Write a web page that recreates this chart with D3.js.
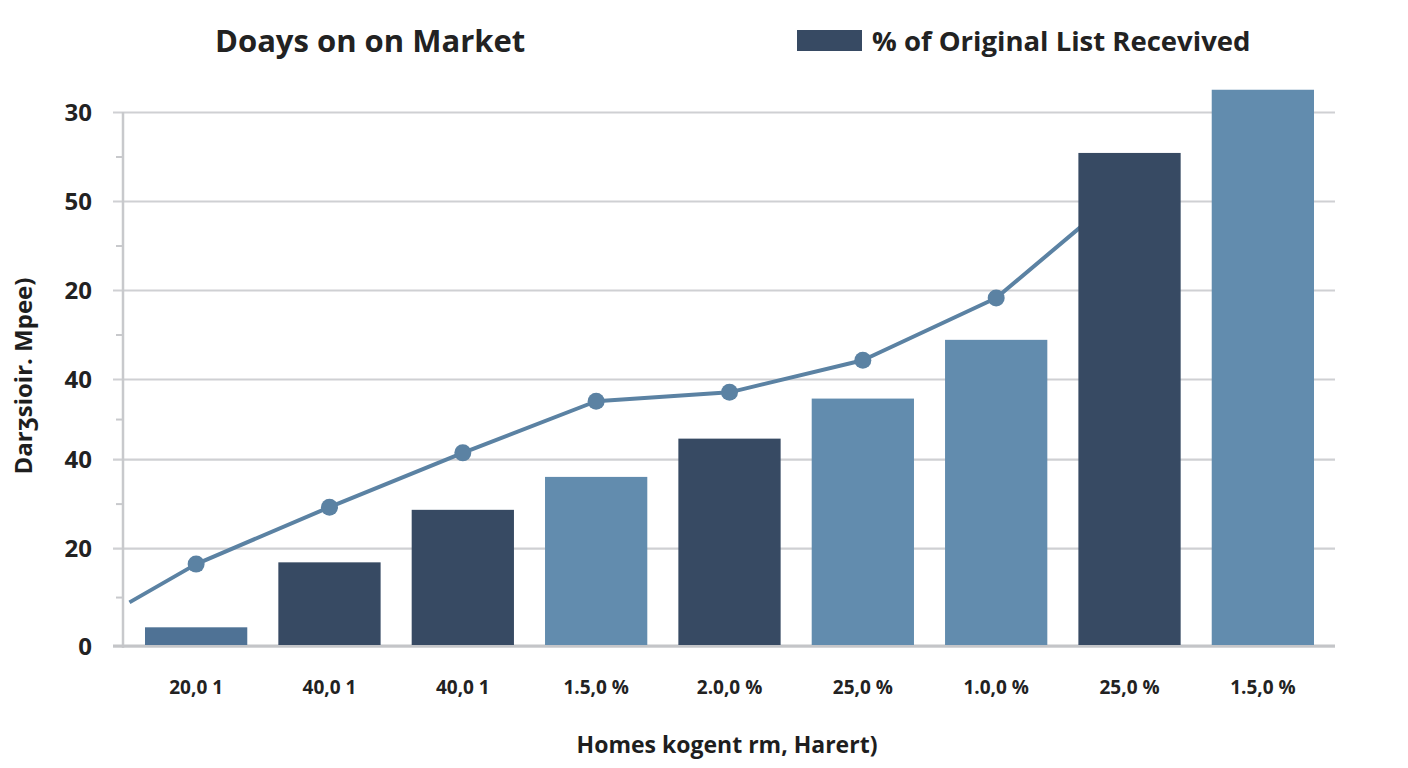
<!DOCTYPE html>
<html>
<head>
<meta charset="utf-8">
<script src="https://cdn.jsdelivr.net/npm/d3@7"></script>
<style>
  html, body { margin: 0; padding: 0; background: #ffffff; }
  svg { display: block; font-family: "Open Sans", "Noto Sans", sans-serif; }
</style>
</head>
<body>
<svg id="chart" width="1408" height="768"></svg>
<script>
// ---- data ----
const categories = ["20,0 1", "40,0 1", "40,0 1", "1.5,0 %", "2.0,0 %", "25,0 %", "1.0,0 %", "25,0 %", "1.5,0 %"];
const barValues = [2.1, 9.4, 15.3, 19.0, 23.3, 27.8, 34.4, 55.4, 62.5];
const barGroups = ["mid", "dark", "dark", "light", "dark", "light", "light", "dark", "light"];
// line: [category position index, value]
const lineIndex = [-0.5, 0, 1, 2, 3, 4, 5, 6, 7];
const lineValues = [4.9, 9.2, 15.6, 21.7, 27.5, 28.5, 32.1, 39.1, 51.7];
const yTickValues = [0, 11, 21, 30, 40, 50, 60];
const yTickLabels = ["0", "20", "40", "40", "20", "50", "30"];
const yMinorTicks = [5.5, 16, 25.5, 35, 45, 55];
const titleText = "Doays on on Market";
const legendText = "% of Original List Recevived";
const xTitle = "Homes kogent rm, Harert)";
const yTitle = "Darʒsioir. Mpee)";

// ---- layout ----
const svg = d3.select("#chart");
const pLeft = 123, pRight = 1336, pTop = 112, pBottom = 646;

const x = d3.scaleBand().domain(d3.range(categories.length))
  .range([pLeft, pRight]).paddingInner(0.233).paddingOuter(0.165);
const y = d3.scaleLinear().domain([0, 60]).range([pBottom, pTop]);
const xc = d3.scaleLinear().domain([0, categories.length - 1])
  .range([x(0) + x.bandwidth() / 2, x(categories.length - 1) + x.bandwidth() / 2]);
const color = d3.scaleOrdinal().domain(["dark", "light", "mid"])
  .range(["#374a63", "#628cae", "#4f7295"]);

// gridlines
const grid = d3.axisLeft(y).tickValues(yTickValues).tickSize(-(1335 - 113)).tickFormat("");
svg.append("g").attr("transform", `translate(113,0)`).call(grid)
  .call(g => g.select(".domain").remove())
  .call(g => g.selectAll("line").attr("stroke", "#cfd0d3").attr("stroke-width", 2.2));

// minor ticks
const minor = d3.axisLeft(y).tickValues(yMinorTicks).tickSize(7).tickFormat("");
svg.append("g").attr("transform", `translate(${pLeft},0)`).call(minor)
  .call(g => g.select(".domain").remove())
  .call(g => g.selectAll("line").attr("stroke", "#c8c9cc").attr("stroke-width", 2));

// vertical axis line
svg.append("line").attr("x1", pLeft).attr("x2", pLeft).attr("y1", y(60)).attr("y2", pBottom + 2)
  .attr("stroke", "#c8c9cc").attr("stroke-width", 2.5);

// baseline
svg.append("line").attr("x1", 113).attr("x2", 1335).attr("y1", pBottom).attr("y2", pBottom)
  .attr("stroke", "#c4c5c8").attr("stroke-width", 3);

// y tick labels
const yAxis = d3.axisLeft(y).tickValues(yTickValues).tickSize(0).tickPadding(0)
  .tickFormat((d, i) => yTickLabels[i]);
svg.append("g").attr("transform", `translate(92,0)`).call(yAxis)
  .call(g => g.select(".domain").remove())
  .call(g => g.selectAll("text").attr("font-family", "'Open Sans', sans-serif")
    .attr("font-size", 24).attr("font-weight", 700).attr("fill", "#222").attr("dy", "0.35em"));

// line
const lineData = lineIndex.map((d, i) => [d, lineValues[i]]);
const line = d3.line().x(d => xc(d[0])).y(d => y(d[1]));
svg.append("path").datum(lineData).attr("d", line)
  .attr("fill", "none").attr("stroke", "#5b82a3").attr("stroke-width", 4).attr("stroke-linejoin", "round");
svg.append("g").selectAll("circle").data(lineData.slice(1, 8)).join("circle")
  .attr("cx", d => xc(d[0])).attr("cy", d => y(d[1])).attr("r", 8.5).attr("fill", "#5b82a3");

// bars
svg.append("g").selectAll("rect").data(barValues).join("rect")
  .attr("x", (d, i) => x(i)).attr("width", x.bandwidth())
  .attr("y", d => y(d)).attr("height", d => pBottom - y(d) - 1)
  .attr("fill", (d, i) => color(barGroups[i]));

// x tick labels
const xAxis = d3.axisBottom(x).tickSize(0).tickPadding(0).tickFormat(i => categories[i]);
svg.append("g").attr("transform", `translate(0,687)`).call(xAxis)
  .call(g => g.select(".domain").remove())
  .call(g => g.selectAll("text").attr("font-family", "'Open Sans', sans-serif")
    .attr("font-size", 19).attr("font-weight", 700).attr("fill", "#222").attr("dy", "0.35em"));

// x title
svg.append("text").attr("x", 727).attr("y", 745).attr("dy", "0.35em").attr("text-anchor", "middle")
  .attr("font-size", 23).attr("font-weight", 700).attr("fill", "#1e1e1e").text(xTitle);

// y title
svg.append("text").attr("transform", `translate(24,376) rotate(-90)`).attr("dy", "0.35em")
  .attr("text-anchor", "middle").attr("font-size", 24).attr("font-weight", 700).attr("fill", "#1e1e1e").text(yTitle);

// title
svg.append("text").attr("x", 215).attr("y", 41).attr("dy", "0.35em")
  .attr("font-size", 31).attr("font-weight", 700).attr("fill", "#222").text(titleText);

// legend
svg.append("rect").attr("x", 797).attr("y", 30).attr("width", 65).attr("height", 21).attr("fill", "#374a63");
svg.append("text").attr("x", 872).attr("y", 41).attr("dy", "0.35em")
  .attr("font-size", 27.5).attr("font-weight", 700).attr("fill", "#222").text(legendText);
</script>
</body>
</html>
